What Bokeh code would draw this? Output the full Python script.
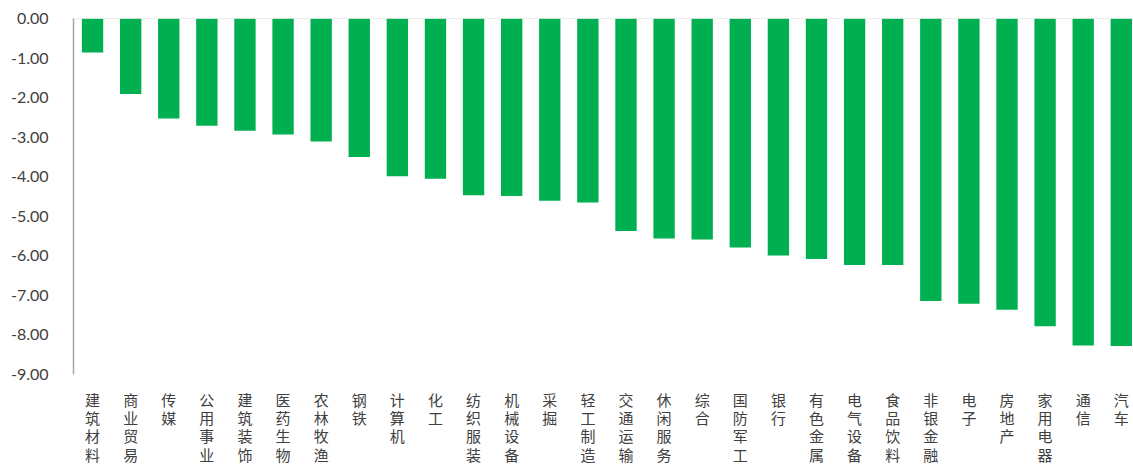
from bokeh.plotting import figure
from bokeh.models import Range1d, FixedTicker, NumeralTickFormatter, Span
from bokeh.embed import file_html
from bokeh.resources import INLINE

categories = ["建筑材料", "商业贸易", "传媒", "公用事业", "建筑装饰", "医药生物", "农林牧渔",
              "钢铁", "计算机", "化工", "纺织服装", "机械设备", "采掘", "轻工制造",
              "交通运输", "休闲服务", "综合", "国防军工", "银行", "有色金属", "电气设备",
              "食品饮料", "非银金融", "电子", "房地产", "家用电器", "通信", "汽车"]
values = [-0.86, -1.91, -2.53, -2.71, -2.84, -2.93, -3.11,
          -3.50, -3.99, -4.05, -4.47, -4.49, -4.61, -4.65,
          -5.37, -5.56, -5.59, -5.79, -5.99, -6.08, -6.23,
          -6.23, -7.14, -7.21, -7.36, -7.78, -8.27, -8.28]
y_ticks = [0, -1, -2, -3, -4, -5, -6, -7, -8, -9]

xs = list(range(len(categories)))

p = figure(width=1133, height=469, output_backend="svg", toolbar_location=None,
           x_range=Range1d(-0.5, 27.32), y_range=Range1d(-9, 0))
p.min_border_left = 73
p.min_border_right = 0
p.min_border_top = 18
p.min_border_bottom = 95
p.outline_line_color = None
p.grid.visible = False
p.background_fill_color = "white"
p.border_fill_color = "white"

p.vbar(x=xs, top=values, bottom=0, width=0.56, color="#00B050", line_color=None)

p.add_layout(Span(location=0, dimension="width", line_color="#D9D9D9", line_width=1))

yax = p.yaxis[0]
yax.ticker = FixedTicker(ticks=y_ticks)
yax.formatter = NumeralTickFormatter(format="0.00")
yax.axis_line_color = "#A6A6A6"
yax.axis_line_width = 1.5
yax.major_tick_line_color = None
yax.minor_tick_line_color = None
yax.major_label_standoff = 19
yax.major_label_text_font = "Lato"
yax.major_label_text_font_size = "16px"
yax.major_label_text_color = "#404040"

xax = p.xaxis[0]
xax.ticker = FixedTicker(ticks=xs)
xax.major_label_overrides = {i: "\n".join(c) for i, c in zip(xs, categories)}
xax.axis_line_color = None
xax.major_tick_line_color = None
xax.minor_tick_line_color = None
xax.major_label_standoff = 8
xax.major_label_text_font = "Noto Sans CJK SC"
xax.major_label_text_font_size = "15px"
xax.major_label_text_color = "#404040"
xax.major_label_text_line_height = 0.88

open("out.html", "w").write(file_html(p, INLINE))
